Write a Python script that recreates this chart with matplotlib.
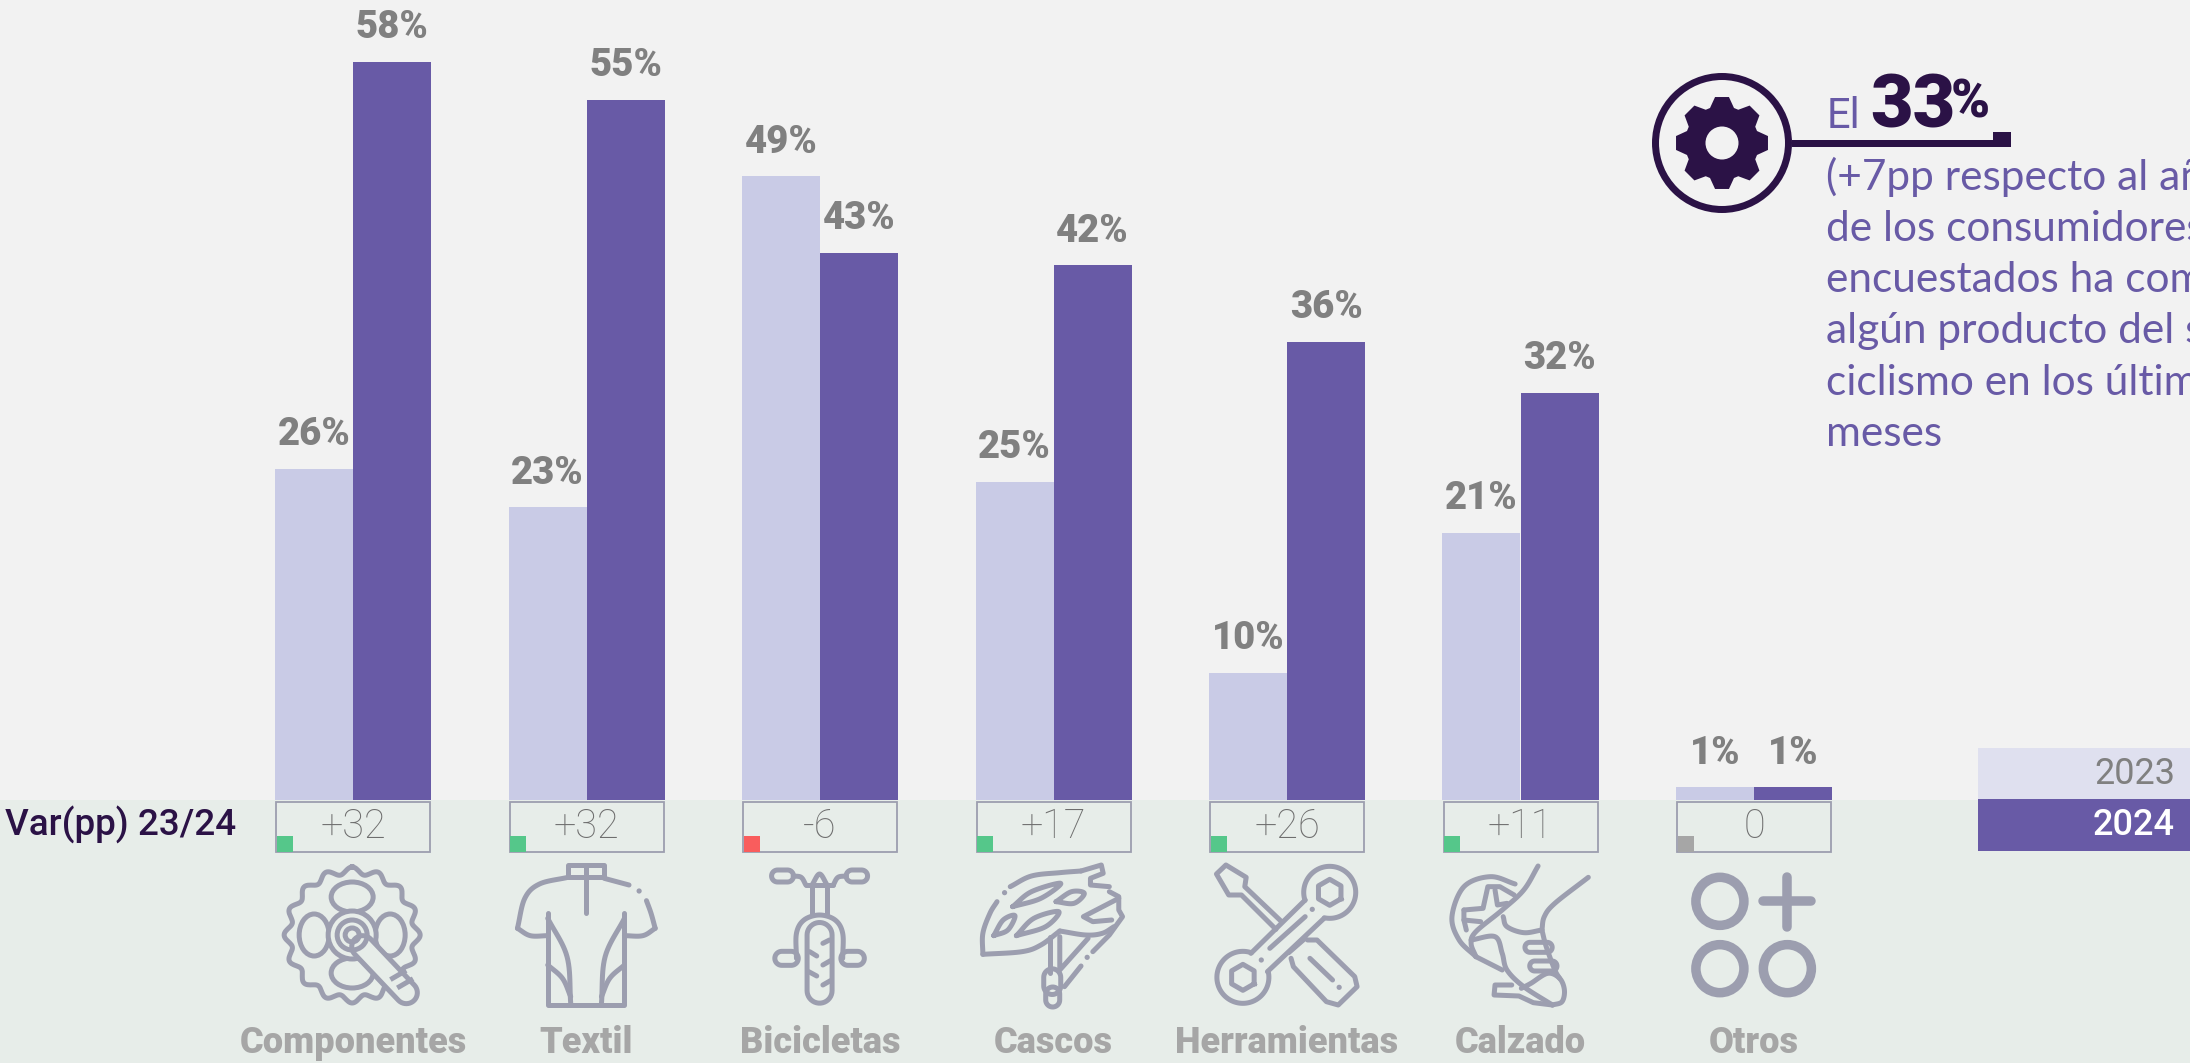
import matplotlib
matplotlib.use('Agg')
import matplotlib.pyplot as plt
from matplotlib.patches import Rectangle, Circle, Ellipse, Polygon
import numpy as np

plt.rcParams['font.family'] = ['Roboto', 'DejaVu Sans']

# Datos
categorias = ['Componentes', 'Textil', 'Bicicletas', 'Cascos', 'Herramientas', 'Calzado', 'Otros']
valores_2023 = [26, 23, 49, 25, 10, 21, 1]
valores_2024 = [58, 55, 43, 42, 36, 32, 1]
variacion = ['+32', '+32', '-6', '+17', '+26', '+11', '0']
anios = ['2023', '2024']
texto_callout = ['(+7pp respecto al año', 'de los consumidores', 'encuestados ha comprado',
                 'algún producto del sector', 'ciclismo en los últimos', 'meses']

C_FONDO = '#F2F2F2'
C_BANDA = '#E7EDE9'
C_CLARO = '#C9CBE6'
C_OSCURO = '#685AA6'
C_TINTA = '#2B1246'
C_GRIS = '#808080'
C_ETIQ = '#A6A6A6'
C_ICONO = '#9C9EAF'
C_VERDE = '#55C78A'
C_ROJO = '#F95D5D'

W, H = 2190, 1063
PX_X = 233.5   # pixeles por categoria
PX_Y = 12.73   # pixeles por punto porcentual
X0, Y0 = 353, 800

fig = plt.figure(figsize=(W / 100, H / 100), dpi=100, facecolor=C_FONDO)

# Ejes de las barras, a pantalla completa
ax = fig.add_axes([0, 0, 1, 1])
ax.set_xlim(-X0 / PX_X, (W - X0) / PX_X)
ax.set_ylim((Y0 - H) / PX_Y, Y0 / PX_Y)
ax.axis('off')
ax.axhspan((Y0 - H) / PX_Y, 0, color=C_BANDA, lw=0, zorder=0)

x = np.arange(len(categorias))
ancho = 78 / PX_X
ax.bar(x - ancho / 2, valores_2023, ancho, color=C_CLARO, zorder=2)
ax.bar(x + ancho / 2, valores_2024, ancho, color=C_OSCURO, zorder=2)
for xi, v23, v24 in zip(x, valores_2023, valores_2024):
    for xb, v in ((xi - ancho / 2, v23), (xi + ancho / 2, v24)):
        ax.annotate(f'{v}%', (xb, v), xytext=(0, 17), textcoords='offset points',
                    ha='center', va='baseline', fontsize=27.5, fontweight='heavy', color=C_GRIS, zorder=3)

# Capa en pixeles para cajas, iconos y textos
px = fig.add_axes([0, 0, 1, 1], facecolor='none')
px.set_xlim(0, W)
px.set_ylim(H, 0)
px.axis('off')


def curva(pts, n=12):
    # Catmull-Rom simple para suavizar los iconos
    p = np.array(pts, float)
    if len(p) < 3:
        return p
    p = np.vstack([2 * p[0] - p[1], p, 2 * p[-1] - p[-2]])
    out = []
    for i in range(1, len(p) - 2):
        for t in np.linspace(0, 1, n, endpoint=False):
            a, b, c, d = p[i - 1], p[i], p[i + 1], p[i + 2]
            out.append(0.5 * (2 * b + (c - a) * t + (2 * a - 5 * b + 4 * c - d) * t ** 2
                              + (3 * b - a - 3 * c + d) * t ** 3))
    out.append(p[-2])
    return np.array(out)


class Icono:
    # Dibuja en coordenadas de un recorte: px = x0 + zx / fx, py = y0 + zy / 3
    def __init__(self, x0, y0, fx, lw=5):
        self.x0, self.y0, self.fx, self.lw = x0, y0, fx, lw * 0.72

    def conv(self, pts):
        p = np.array(pts, float)
        return np.column_stack([self.x0 + p[:, 0] / self.fx, self.y0 + p[:, 1] / 3])

    def recta(self, *pts):
        q = self.conv(pts)
        px.plot(q[:, 0], q[:, 1], color=C_ICONO, lw=self.lw, solid_capstyle='round', solid_joinstyle='round')

    def suave(self, *pts):
        q = curva(self.conv(pts))
        px.plot(q[:, 0], q[:, 1], color=C_ICONO, lw=self.lw, solid_capstyle='round', solid_joinstyle='round')

    def punto(self, zx, zy, r=2.6):
        q = self.conv([(zx, zy)])[0]
        px.add_patch(Circle(q, r, color=C_ICONO, lw=0))

    def arco(self, zx, zy, r, a0=0, a1=360):
        c = self.conv([(zx, zy)])[0]
        a = np.radians(np.linspace(a0, a1, 80))
        px.plot(c[0] + r * np.cos(a), c[1] + r * np.sin(a), color=C_ICONO, lw=self.lw, solid_capstyle='round')

    def capsula(self, zx0, zy0, zx1, zy1, w, fondo=False):
        a, b = self.conv([(zx0, zy0), (zx1, zy1)])
        ang = np.arctan2(*(b - a)[::-1])
        t = np.linspace(-np.pi / 2, np.pi / 2, 20)
        p1 = b[None, :] + w / 2 * np.column_stack([np.cos(t + ang), np.sin(t + ang)])
        p2 = a[None, :] + w / 2 * np.column_stack([np.cos(t + ang + np.pi), np.sin(t + ang + np.pi)])
        px.add_patch(Polygon(np.vstack([p1, p2]), closed=True, fc=C_BANDA if fondo else 'none',
                             ec=C_ICONO, lw=self.lw, joinstyle='round', zorder=2.5))


def icono_componentes():
    ic = Icono(0, 770, 2.178)
    cx, cy = ic.conv([(767, 495)])[0]
    a = np.linspace(0, 2 * np.pi, 400)
    r = 64.5 + 3.5 * np.cos(16 * a)
    px.plot(cx + r * np.sin(a), cy - r * np.cos(a), color=C_ICONO, lw=ic.lw)
    for dx, dy, w, h in ((0, -38, 42, 30), (0, 38, 42, 30), (-38, 0, 30, 42), (38, 0, 30, 42)):
        px.add_patch(Ellipse((cx + dx, cy + dy), w, h, fc='none', ec=C_ICONO, lw=ic.lw))
    px.add_patch(Circle((cx, cy), 24, fc=C_BANDA, ec=C_ICONO, lw=ic.lw, zorder=2.4))
    px.add_patch(Circle((cx, cy), 15, fc='none', ec=C_ICONO, lw=ic.lw, zorder=2.6))
    px.add_patch(Circle((cx, cy), 7, fc='none', ec=C_ICONO, lw=ic.lw, zorder=2.6))
    ic.capsula(790, 530, 885, 668, 22, fondo=True)
    a1, b1 = ic.conv([(855, 625), (880, 605)])
    px.plot([a1[0], b1[0]], [a1[1], b1[1]], color=C_ICONO, lw=ic.lw, zorder=2.6)
    a1, b1 = ic.conv([(870, 650), (895, 630)])
    px.plot([a1[0], b1[0]], [a1[1], b1[1]], color=C_ICONO, lw=ic.lw, zorder=2.6)


def icono_textil():
    ic = Icono(0, 770, 2.178)
    ic.recta((1237, 322), (1237, 285), (1316, 285), (1316, 322), (1237, 322))
    ic.recta((1277, 285), (1277, 428))
    ic.suave((1237, 322), (1175, 342), (1143, 385), (1127, 475))
    ic.suave((1127, 475), (1155, 497), (1193, 497))
    ic.recta((1316, 325), (1370, 345))
    ic.punto(1392, 363)
    ic.suave((1408, 392), (1418, 430), (1427, 475))
    ic.suave((1427, 475), (1400, 497), (1360, 497))
    ic.recta((1193, 430), (1193, 704), (1360, 704), (1360, 430))
    ic.suave((1193, 445), (1235, 560), (1243, 700))
    ic.suave((1360, 445), (1318, 560), (1310, 700))
    ic.suave((1193, 585), (1225, 625), (1243, 680))
    ic.suave((1360, 585), (1328, 625), (1310, 680))


def icono_bici():
    ic = Icono(720, 770, 2.119)
    ic.capsula(122, 318, 143, 318, 12)
    ic.capsula(280, 318, 300, 318, 12)
    ic.suave((155, 318), (172, 322), (182, 345))
    ic.recta((182, 345), (240, 345))
    ic.suave((240, 345), (250, 322), (268, 318))
    ic.recta((195, 345), (195, 435))
    ic.recta((227, 345), (227, 435))
    ic.suave((195, 345), (211, 312), (227, 345))
    ic.suave((162, 565), (162, 490), (178, 450), (211, 435), (244, 450), (260, 490), (260, 565))
    ic.capsula(211, 495, 211, 662, 25)
    ic.capsula(131, 565, 151, 565, 14)
    ic.capsula(271, 565, 291, 565, 14)
    for p in (((218, 520), (232, 510)), ((190, 545), (205, 558)), ((218, 585), (234, 572)),
              ((188, 605), (205, 618)), ((218, 645), (234, 632))):
        ic.recta(*p)


def icono_casco():
    ic = Icono(720, 770, 2.119)
    ic.suave((557, 553), (557, 490), (572, 430), (587, 395))
    ic.punto(603, 368)
    ic.suave((615, 350), (660, 318), (720, 308), (765, 303))
    ic.recta((765, 303), (808, 285), (812, 310), (785, 325), (785, 345), (825, 350))
    ic.recta((825, 365), (845, 380), (845, 420), (853, 440), (825, 495), (790, 545))
    ic.suave((557, 553), (640, 545), (680, 525), (720, 483))
    ic.suave((720, 483), (775, 495), (810, 490), (835, 470))
    ic.recta((845, 385), (770, 440), (790, 455), (830, 450))
    for v in (((620, 410), (660, 365), (722, 340), (680, 385), (620, 410)),
              ((712, 395), (745, 365), (772, 370), (750, 400), (712, 395)),
              ((580, 497), (600, 450), (625, 437), (610, 480), (580, 497)),
              ((628, 497), (665, 445), (718, 425), (690, 470), (628, 497))):
        ic.suave(*v)
    ic.recta((700, 500), (700, 610))
    ic.recta((720, 500), (720, 600), (780, 505))
    ic.capsula(704, 622, 704, 648, 17)
    ic.capsula(705, 672, 705, 690, 14)
    ic.recta((730, 650), (765, 588))
    ic.punto(778, 562)


def icono_herramientas():
    ic = Icono(720, 770, 2.119)
    ic.recta((1190, 455), (1112, 350), (1115, 322), (1072, 285), (1052, 312), (1078, 375), (1105, 375), (1178, 478))
    ic.recta((1245, 510), (1265, 510), (1345, 620), (1350, 650), (1310, 705), (1285, 695), (1215, 590), (1210, 565))
    ic.recta((1205, 548), (1240, 505))
    ic.recta((1250, 565), (1298, 630))
    ic.punto(1312, 652)
    ic.arco(1292, 367, 26, 162, 462)
    ic.arco(1108, 622, 26, -13, 289)
    for cz in ((1292, 367), (1108, 622)):
        c = ic.conv([cz])[0]
        a = np.radians(np.arange(0, 361, 60) + 30)
        px.plot(c[0] + 13 * np.cos(a), c[1] + 13 * np.sin(a), color=C_ICONO, lw=ic.lw)
    ic.recta((1240, 390), (1125, 550))
    ic.recta((1280, 445), (1160, 605))
    ic.recta((1240, 440), (1165, 535))
    ic.punto(1255, 418)
    ic.punto(1147, 570)


def icono_calzado():
    ic = Icono(1440, 740, 2.09)
    ic.suave((157, 432), (105, 410), (50, 440), (25, 530), (40, 600), (75, 650))
    ic.suave((205, 378), (175, 450), (130, 510), (75, 575), (65, 610), (75, 650))
    ic.recta((75, 650), (130, 690))
    ic.suave((310, 412), (240, 490), (218, 530), (213, 570))
    ic.suave((213, 570), (175, 578), (140, 560), (132, 530))
    ic.suave((65, 600), (115, 590), (130, 640), (140, 690), (175, 740), (235, 795))
    ic.suave((235, 795), (255, 785), (260, 750), (250, 715), (225, 700), (190, 730), (170, 745))
    ic.recta((150, 735), (115, 735), (113, 765), (165, 768), (195, 788), (235, 795))
    ic.suave((213, 570), (222, 620), (240, 690), (250, 715))
    ic.capsula(188, 622, 224, 622, 10)
    ic.capsula(198, 678, 234, 678, 10)
    ic.recta((50, 510), (90, 505), (100, 440), (125, 440), (155, 465))
    ic.recta((115, 450), (120, 495), (140, 490))
    ic.recta((50, 510), (50, 540), (85, 545))
    ic.recta((50, 540), (55, 570))


def icono_otros():
    ic = Icono(1440, 740, 2.09, lw=9.5)
    for cz in ((585, 484), (585, 686), (726, 686)):
        c = ic.conv([cz])[0]
        px.add_patch(Circle(c, 24, fc='none', ec=C_ICONO, lw=ic.lw))
    ic.recta((676, 484), (776, 484))
    ic.recta((726, 410), (726, 560))


iconos = [icono_componentes, icono_textil, icono_bici, icono_casco, icono_herramientas, icono_calzado, icono_otros]

# Cajas de variacion, iconos y etiquetas
for i, (cat, var) in enumerate(zip(categorias, variacion)):
    cx = X0 + PX_X * i
    px.add_patch(Rectangle((cx - 77, 802), 154, 49.5, fc='none', ec=C_ICONO, lw=1.3))
    col = C_VERDE if var.startswith('+') else (C_ROJO if var.startswith('-') else C_ETIQ)
    px.add_patch(Rectangle((cx - 76.5, 836), 16, 15.5, fc=col, lw=0))
    px.text(cx, 823, var, ha='center', va='center_baseline', fontsize=28.5, color='#6E6E6E', fontweight='light')
    iconos[i]()
    px.text(cx, 1053, cat, ha='center', va='baseline', fontsize=26, fontweight='heavy', color=C_ETIQ)

px.text(5, 836, 'Var(pp) 23/24', ha='left', va='baseline', fontsize=26.5, fontweight='medium', color=C_TINTA)

# Leyenda
px.add_patch(Rectangle((1978, 748), 212, 51, fc='#DFE0EF', lw=0))
px.add_patch(Rectangle((1978, 799), 212, 52, fc=C_OSCURO, lw=0))
px.text(2175, 784, anios[0], ha='right', va='baseline', fontsize=26, color=C_GRIS)
px.text(2175, 835, anios[1], ha='right', va='baseline', fontsize=26, color='white', fontweight='medium')

# Llamada con engranaje
cg = np.array([1722, 143])
px.add_patch(Circle(cg, 66.5, fc='none', ec=C_TINTA, lw=7 * 0.72))
pts = []
for a in np.radians(np.arange(0, 360, 45) - 90):
    for r, d in ((37, -0.33), (46.5, -0.15), (46.5, 0.15), (37, 0.33)):
        pts.append(cg + r * np.array([np.cos(a + d), np.sin(a + d)]))
px.add_patch(Polygon(pts, closed=True, fc=C_TINTA, lw=0))
px.add_patch(Circle(cg, 16.5, fc=C_FONDO, lw=0))
px.add_patch(Rectangle((1792, 140), 219, 7, fc=C_TINTA, lw=0))
px.add_patch(Rectangle((1992.5, 132), 18.5, 8, fc=C_TINTA, lw=0))

px.text(1827, 128, 'El', ha='left', va='baseline', fontsize=30, color=C_OSCURO)
px.text(1870, 128, '33', ha='left', va='baseline', fontsize=53, fontweight='heavy', color=C_TINTA)
px.text(1951, 118, '%', ha='left', va='baseline', fontsize=38, fontweight='heavy', color=C_TINTA)

for base, linea in zip([190, 241, 292, 343, 395, 446], texto_callout):
    px.text(1826, base, linea, ha='left', va='baseline', fontsize=30.5, family=['Lato', 'DejaVu Sans'],
            color=C_OSCURO, clip_on=True)

fig.savefig('out.png', dpi=100, facecolor=C_FONDO)
